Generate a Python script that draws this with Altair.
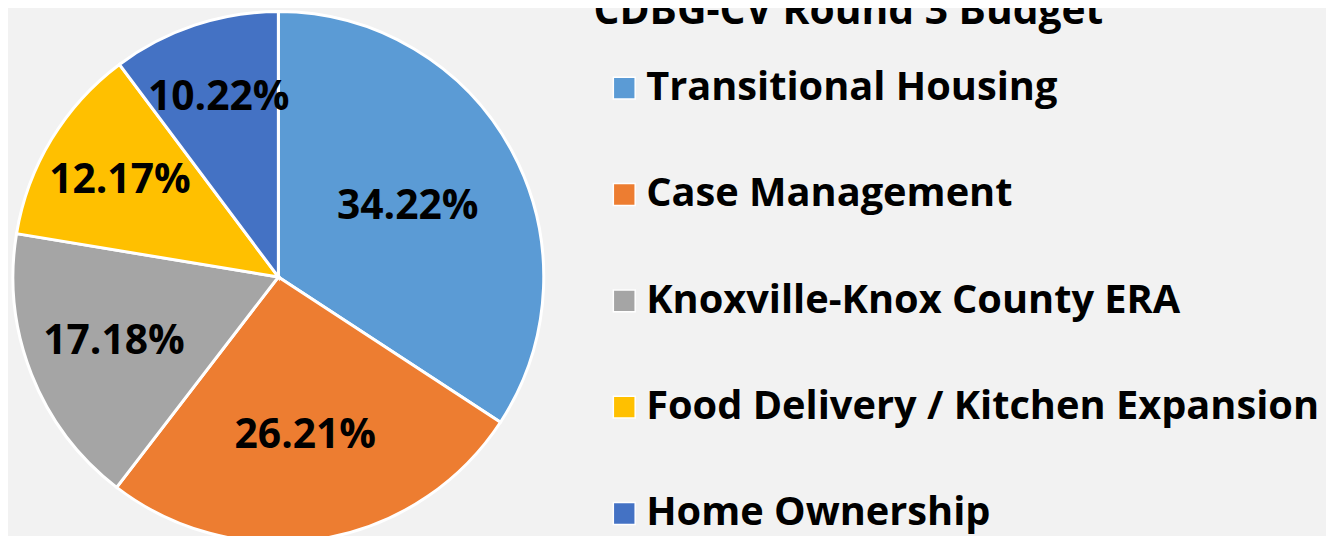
import altair as alt
import pandas as pd

categories = [
    "Transitional Housing",
    "Case Management",
    "Knoxville-Knox County ERA",
    "Food Delivery / Kitchen Expansion",
    "Home Ownership",
]
shares = [34.22, 26.21, 17.18, 12.17, 10.22]
colors = ["#5B9BD5", "#ED7D31", "#A5A5A5", "#FFC000", "#4472C4"]
title_text = ["CDBG-CV Round 3 Budget"]

df = pd.DataFrame({
    "category": categories,
    "share": shares,
    "order": list(range(len(categories))),
    "label": [f"{v:.2f}%" for v in shares],
})

W, H = 1326, 528
CX, CY, R = 272, 269, 267
FONT = "Open Sans"

base = alt.Chart(df).encode(
    theta=alt.Theta("share:Q", stack=True),
    order=alt.Order("order:Q"),
)

pie = base.mark_arc(stroke="white", strokeWidth=3).encode(
    color=alt.Color(
        "category:N",
        sort=categories,
        scale=alt.Scale(domain=categories, range=colors),
        legend=alt.Legend(
            title=None,
            orient="none",
            legendX=600,
            legendY=59,
            symbolType="square",
            symbolSize=484,
            symbolStrokeColor="white",
            symbolStrokeWidth=1.5,
            symbolOpacity=1,
            labelFont=FONT,
            labelFontSize=40,
            labelFontWeight="bold",
            labelColor="black",
            labelOffset=2,
            labelLimit=1000,
            rowPadding=67,
        ),
    ),
    x=alt.value(CX),
    y=alt.value(CY),
    radius=alt.value(R),
)

# Excel "best fit" pushes labels of narrow slices further out
labels = base.mark_text(
    font=FONT, fontSize=41, fontWeight="bold", color="black"
).encode(
    text="label:N",
    radius=alt.Radius(
        "share:Q",
        scale=alt.Scale(type="linear", zero=False, domain=[10.22, 34.22], range=[190, 148]),
    ),
    x=alt.value(CX),
    y=alt.value(CY),
)

title = alt.Chart(pd.DataFrame({"t": title_text})).mark_text(
    align="left", baseline="alphabetic", font=FONT, fontSize=41,
    fontWeight="bold", color="black",
).encode(
    text="t:N",
    x=alt.value(589),
    y=alt.value(14),
)

chart = (
    alt.layer(pie, labels, title)
    .resolve_scale(radius="independent")
    .properties(
        width=W,
        height=H,
        autosize=alt.AutoSizeParams(type="none"),
        padding=0,
    )
    .configure(background="#f2f2f2")
    .configure_view(strokeWidth=0)
)

chart.save("out.html", embed_options={"renderer": "svg", "actions": False})
